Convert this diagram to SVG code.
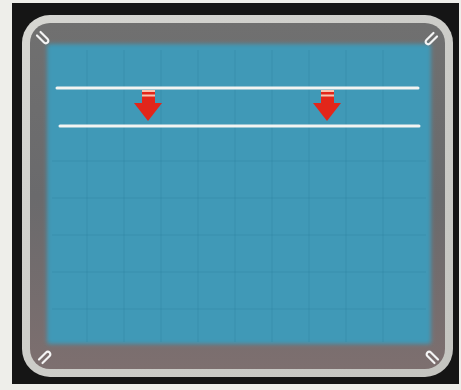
<svg xmlns="http://www.w3.org/2000/svg" width="461" height="390" viewBox="0 0 461 390">
  <defs>
    <linearGradient id="recess" x1="0" y1="0" x2="0" y2="1">
      <stop offset="0" stop-color="#707070"/>
      <stop offset="0.5" stop-color="#6a6a6c"/>
      <stop offset="1" stop-color="#7d6f6f"/>
    </linearGradient>
    <linearGradient id="bezel" x1="0" y1="0" x2="1" y2="1">
      <stop offset="0" stop-color="#d6d6d2"/>
      <stop offset="1" stop-color="#c4c4c0"/>
    </linearGradient>
    <filter id="soft" x="-5%" y="-5%" width="110%" height="110%">
      <feGaussianBlur stdDeviation="2"/>
    </filter>
    <style>
      .grid { stroke: #2c7d9c; stroke-width: 1; opacity: 0.35; fill: none; }
      .trace { stroke: #f2f4f2; stroke-width: 3; stroke-linecap: round; }
      .red { fill: #e2261a; }
      .pink { fill: #f6c4b2; }
      .clip { fill: none; stroke: #f4f4f4; stroke-width: 2.2; stroke-linecap: round; }
    </style>
  </defs>

  <rect x="0" y="0" width="461" height="390" fill="#eeeeea"/>
  <rect x="12" y="3" width="447" height="381" fill="#151515"/>

  <g id="bezel-frame">
    <rect x="22" y="15" width="431" height="362" rx="28" fill="url(#bezel)"/>
    <rect x="30" y="23" width="415" height="346" rx="20" fill="url(#recess)"/>
  </g>

  <g id="screen">
    <rect x="47" y="44" width="384" height="300" rx="3" fill="#3f99b7" filter="url(#soft)"/>
  </g>

  <g id="graticule">
    <path class="grid" d="M87 50V342M124 50V342M161 50V342M198 50V342M235 50V342M272 50V342M309 50V342M346 50V342M383 50V342
                          M52 161H426M52 198H426M52 235H426M52 272H426M52 309H426"/>
  </g>

  <g id="corner-clips">
    <path class="clip" transform="translate(43 38) rotate(45)" d="M-6 -2.5H4A2.5 2.5 0 0 1 4 2.5H-6"/>
    <path class="clip" transform="translate(431 39) rotate(135)" d="M-6 -2.5H4A2.5 2.5 0 0 1 4 2.5H-6"/>
    <path class="clip" transform="translate(45 357) rotate(-45)" d="M-6 -2.5H4A2.5 2.5 0 0 1 4 2.5H-6"/>
    <path class="clip" transform="translate(432 357) rotate(-135)" d="M-6 -2.5H4A2.5 2.5 0 0 1 4 2.5H-6"/>
  </g>

  <g id="connectors">
    <line id="trace-top" class="trace" x1="57" y1="88" x2="418" y2="88"/>
    <line id="trace-bottom" class="trace" x1="60" y1="126" x2="419" y2="126"/>
  </g>

  <g id="arrow-left">
    <rect class="red" x="142" y="90" width="13" height="14"/>
    <rect class="pink" x="142" y="90" width="13" height="2"/>
    <rect class="pink" x="142" y="94.5" width="13" height="2"/>
    <polygon class="red" points="134,103 162,103 148,121"/>
  </g>

  <g id="arrow-right">
    <rect class="red" x="321" y="90" width="13" height="14"/>
    <rect class="pink" x="321" y="90" width="13" height="2"/>
    <rect class="pink" x="321" y="94.5" width="13" height="2"/>
    <polygon class="red" points="313,103 341,103 327,121"/>
  </g>
</svg>
